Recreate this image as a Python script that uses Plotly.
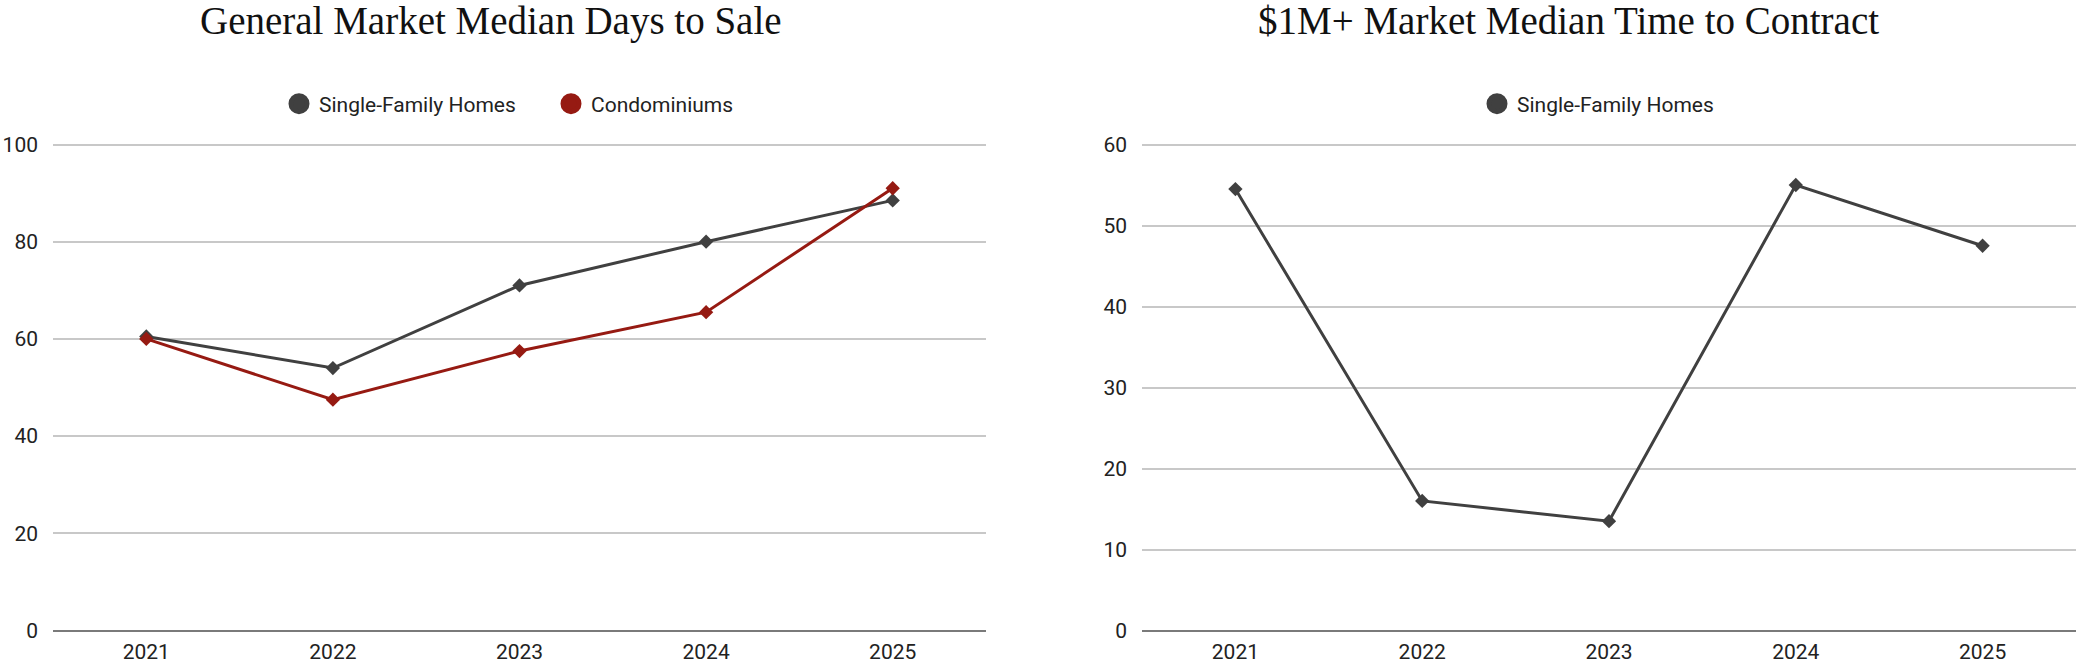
import plotly.graph_objects as go

years = ["2021", "2022", "2023", "2024", "2025"]
sfh_days_to_sale = [60.5, 54, 71, 80, 88.5]
condo_days_to_sale = [60, 47.5, 57.5, 65.5, 91]
sfh_1m_time_to_contract = [54.5, 16, 13.5, 55, 47.5]

left_title = "General Market Median Days to Sale"
right_title = "$1M+ Market Median Time to Contract"

GRAY = "#404040"
RED = "#961a12"
TICKFONT = dict(family="Roboto", size=21, color="#222222")
LEGFONT = dict(family="Roboto", size=21, color="#222222")

fig = go.Figure()

# data traces
fig.add_trace(go.Scatter(x=years, y=sfh_days_to_sale, mode="lines+markers",
                         line=dict(color=GRAY, width=3),
                         marker=dict(symbol="diamond", size=11, color=GRAY),
                         showlegend=False, xaxis="x", yaxis="y"))
fig.add_trace(go.Scatter(x=years, y=condo_days_to_sale, mode="lines+markers",
                         line=dict(color=RED, width=3),
                         marker=dict(symbol="diamond", size=11, color=RED),
                         showlegend=False, xaxis="x", yaxis="y"))
fig.add_trace(go.Scatter(x=years, y=sfh_1m_time_to_contract, mode="lines+markers",
                         line=dict(color=GRAY, width=3),
                         marker=dict(symbol="diamond", size=11, color=GRAY),
                         showlegend=False, xaxis="x2", yaxis="y2"))

# legend entries (circles)
def legend_entry(name, color, legend, xa, ya):
    return go.Scatter(x=[None], y=[None], mode="markers", name=name,
                      marker=dict(symbol="circle", size=16, color=color,
                                  line=dict(color=color, width=5)),
                      legend=legend, xaxis=xa, yaxis=ya)

fig.add_trace(legend_entry("Single-Family Homes", GRAY, "legend", "x", "y"))
fig.add_trace(legend_entry("Condominiums", RED, "legend3", "x", "y"))
fig.add_trace(legend_entry("Single-Family Homes", GRAY, "legend2", "x2", "y2"))

W, H = 2076, 665
top_px = 144.5 - 0.006 * 486
ydom = [(H - 630.5) / H, (H - top_px) / H]

common_x = dict(type="category", range=[-0.5, 4.5], showgrid=False, zeroline=False,
                showline=False, ticks="", tickfont=TICKFONT, ticklabelstandoff=6,
                fixedrange=True, automargin=False)
common_y = dict(showgrid=True, gridcolor="#c8c8c8", gridwidth=1.6, zeroline=True,
                zerolinecolor="#7a7a7a", zerolinewidth=1.6, showline=False, ticks="",
                tickfont=TICKFONT, ticklabelstandoff=14, fixedrange=True, automargin=False)

LEG_Y = (H - 104) / H
def leg(xc):
    return dict(orientation="h", x=(xc - 22) / W, xanchor="left", y=LEG_Y,
                yanchor="middle", font=LEGFONT, bgcolor="rgba(0,0,0,0)",
                borderwidth=0)

fig.update_layout(
    width=W, height=H,
    margin=dict(l=0, r=0, t=0, b=0, autoexpand=False),
    paper_bgcolor="white", plot_bgcolor="white",
    xaxis=dict(domain=[53 / W, 986 / W], anchor="y", **common_x),
    yaxis=dict(domain=ydom, anchor="x", range=[0, 100.6], tickvals=[0, 20, 40, 60, 80, 100], **common_y),
    xaxis2=dict(domain=[1142 / W, 1.0], anchor="y2", **common_x),
    yaxis2=dict(domain=ydom, anchor="x2", range=[0, 60.36], tickvals=[0, 10, 20, 30, 40, 50, 60], **common_y),
    legend=leg(301),
    legend3=leg(573),
    legend2=leg(1499),
    annotations=[
        dict(text=left_title, x=491 / W, y=(H - 21) / H, xref="paper", yref="paper",
             xanchor="center", yanchor="middle", showarrow=False,
             font=dict(family="Liberation Serif", size=39, color="#111111")),
        dict(text=right_title, x=1568 / W, y=(H - 21) / H, xref="paper", yref="paper",
             xanchor="center", yanchor="middle", showarrow=False,
             font=dict(family="Liberation Serif", size=39, color="#111111")),
    ],
)

post = (
    "document.documentElement.style.margin='0';"
    "document.body.style.margin='0';"
    "document.body.style.overflow='hidden';"
)

fig.write_html("out.html", post_script=post, config={"displayModeBar": False})
